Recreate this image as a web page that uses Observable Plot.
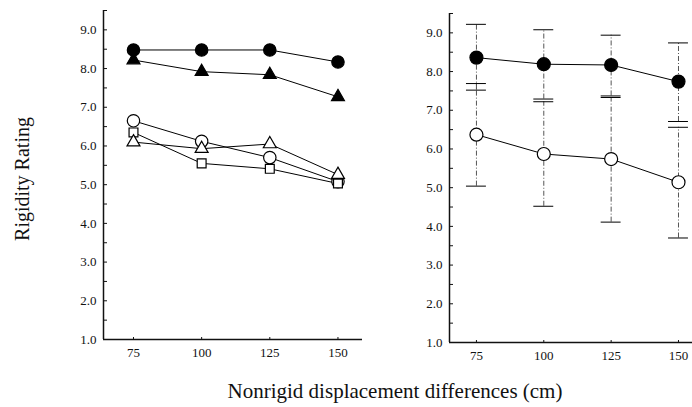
<!DOCTYPE html>
<html>
<head>
<meta charset="utf-8">
<script src="https://cdn.jsdelivr.net/npm/d3@7"></script>
<script src="https://cdn.jsdelivr.net/npm/@observablehq/plot@0.6"></script>
<style>
  html, body { margin: 0; padding: 0; background: #fff; }
  #wrap { position: relative; width: 692px; height: 407px; overflow: hidden; font-family: "Liberation Serif", "DejaVu Serif", serif; }
  #left, #right { position: absolute; top: 0; }
  #left { left: 0; }
  #right { left: 350px; }
  #ylab { position: absolute; left: 22px; top: 179px; transform: translate(-50%, -50%) rotate(-90deg); font-size: 20px; white-space: nowrap; color: #111; }
  #xlab { position: absolute; left: 395px; top: 379px; transform: translateX(-50%); font-size: 21px; white-space: nowrap; color: #111; }
</style>
</head>
<body>
<div id="wrap">
  <div id="left"></div>
  <div id="right"></div>
  <div id="ylab">Rigidity Rating</div>
  <div id="xlab">Nonrigid displacement differences (cm)</div>
</div>
<script>
// ---- data ----
const distances = [75, 100, 125, 150];
const yTicks = [1, 2, 3, 4, 5, 6, 7, 8, 9];
const yMinorTicks = [1.5, 2, 2.5, 3, 3.5, 4, 4.5, 5, 5.5, 6, 6.5, 7, 7.5, 8, 8.5, 9, 9.5];

// left panel series
const leftFilledCircle   = [8.48, 8.48, 8.48, 8.17];
const leftFilledTriangle = [8.22, 7.92, 7.84, 7.27];
const leftOpenCircle     = [6.65, 6.12, 5.70, 5.08];
const leftOpenTriangle   = [6.10, 5.93, 6.05, 5.26];
const leftOpenSquare     = [6.35, 5.55, 5.41, 5.03];

// right panel series with error bars (upper / lower bounds)
const rightFilledMean  = [8.36, 8.19, 8.17, 7.74];
const rightFilledUpper = [9.22, 9.08, 8.94, 8.74];
const rightFilledLower = [7.52, 7.29, 7.37, 6.71];
const rightOpenMean    = [6.37, 5.87, 5.74, 5.14];
const rightOpenUpper   = [7.69, 7.22, 7.33, 6.56];
const rightOpenLower   = [5.04, 4.52, 4.11, 3.70];

// ---- build tables ----
const leftSeries = [
  {name: "fc", vals: leftFilledCircle, symbol: "circle", fill: "black"},
  {name: "ft", vals: leftFilledTriangle, symbol: "triangle", fill: "black"},
  {name: "oc", vals: leftOpenCircle, symbol: "circle", fill: "white"},
  {name: "ot", vals: leftOpenTriangle, symbol: "triangle", fill: "white"},
  {name: "os", vals: leftOpenSquare, symbol: "square", fill: "white"}
];
const leftData = leftSeries.flatMap(s => s.vals.map((v, i) => ({series: s.name, x: distances[i], y: v, symbol: s.symbol, fill: s.fill})));

const rightSeries = [
  {name: "fc", mean: rightFilledMean, up: rightFilledUpper, lo: rightFilledLower, fill: "black"},
  {name: "oc", mean: rightOpenMean, up: rightOpenUpper, lo: rightOpenLower, fill: "white"}
];
const rightData = rightSeries.flatMap(s => s.mean.map((v, i) => ({series: s.name, x: distances[i], y: v, up: s.up[i], lo: s.lo[i], fill: s.fill})));
const capHalf = 3.7; // cap half-width in data units
const caps = rightData.flatMap(d => [{x: d.x, y: d.up}, {x: d.x, y: d.lo}]);

const font = "Liberation Serif, DejaVu Serif, serif";
const symbolRadius = {circle: 6.2, triangle: 4.8, square: 5};

function axes(xmin, xmax) {
  return [
    Plot.axisY({ticks: yTicks, tickFormat: d3.format(".1f"), tickSize: 0, tickPadding: 7, fontSize: 13, anchor: "left", label: null}),
    Plot.axisY({ticks: yMinorTicks, text: null, tickSize: 4, dx: 4, anchor: "left", strokeWidth: 1, label: null}),
    Plot.axisX({ticks: distances, tickSize: 0, tickPadding: 8, fontSize: 13, anchor: "bottom", label: null}),
    Plot.axisX({ticks: distances, text: null, tickSize: 2, dy: -2, anchor: "bottom", strokeWidth: 1, label: null}),
    Plot.ruleX([xmin], {y1: 1, y2: 9.5, strokeWidth: 1.5}),
    Plot.ruleY([1], {x1: xmin, x2: xmax, strokeWidth: 1.5})
  ];
}

const leftX = [64, 159];
const left = Plot.plot({
  width: 362, height: 360,
  marginLeft: 103, marginRight: 0, marginTop: 10, marginBottom: 21,
  style: {fontFamily: font, color: "#111", background: "transparent"},
  x: {domain: leftX, axis: null},
  y: {domain: [1, 9.5], axis: null},
  r: {type: "identity"},
  marks: [
    ...axes(leftX[0], leftX[1]),
    Plot.line(leftData, {x: "x", y: "y", z: "series", stroke: "black", strokeWidth: 1}),
    Plot.dot(leftData, {x: "x", y: "y", symbol: "symbol", fill: "fill", stroke: "black", strokeWidth: 1.2, r: d => symbolRadius[d.symbol]})
  ]
});
document.getElementById("left").appendChild(left);

const rightX = [65, 155.2];
const right = Plot.plot({
  width: 342, height: 363,
  marginLeft: 99, marginRight: 0, marginTop: 13, marginBottom: 21,
  style: {fontFamily: font, color: "#111", background: "transparent"},
  x: {domain: rightX, axis: null},
  y: {domain: [1, 9.5], axis: null},
  marks: [
    ...axes(rightX[0], rightX[1]),
    Plot.ruleX(rightData, {x: "x", y1: "lo", y2: "up", stroke: "#555", strokeWidth: 1, strokeDasharray: "5,2,1,2"}),
    Plot.ruleY(caps, {y: "y", x1: d => d.x - capHalf, x2: d => d.x + capHalf, stroke: "black", strokeWidth: 1}),
    Plot.line(rightData, {x: "x", y: "y", z: "series", stroke: "black", strokeWidth: 1}),
    Plot.dot(rightData, {x: "x", y: "y", fill: "fill", stroke: "black", strokeWidth: 1.2, r: 6.5})
  ]
});
document.getElementById("right").appendChild(right);
</script>
</body>
</html>
